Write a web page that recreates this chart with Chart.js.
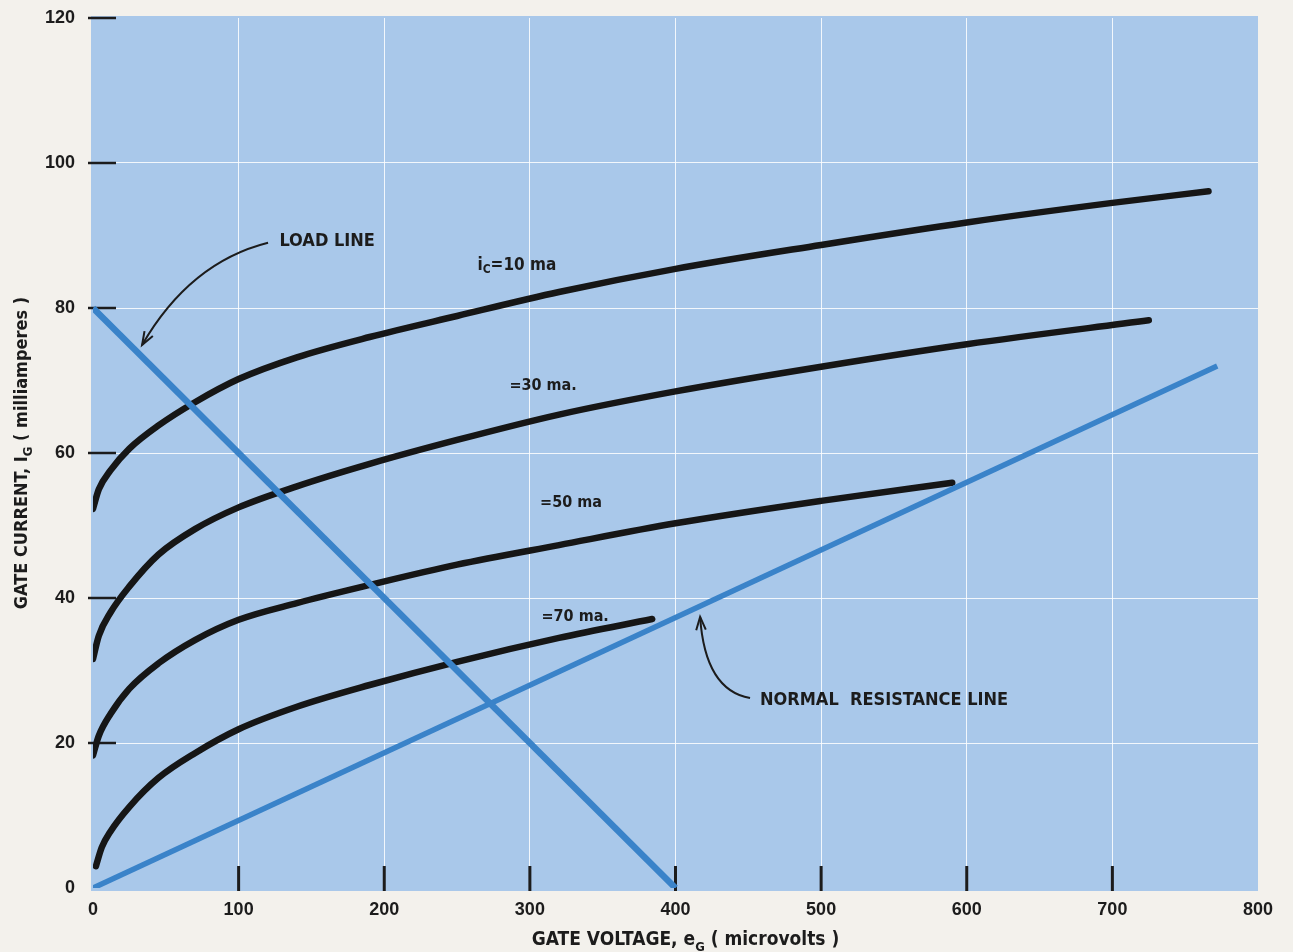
<!DOCTYPE html>
<html>
<head>
<meta charset="utf-8">
<title>Gate current vs gate voltage</title>
<script src="https://cdn.jsdelivr.net/npm/chart.js@4.4.1/dist/chart.umd.min.js"></script>
<style>
    html, body { margin: 0; padding: 0; background: #f3f1ec; }
    canvas { display: block; }
</style>
</head>
<body>
<canvas id="gateChart" width="1293" height="952"></canvas>
<script>
// axis ticks
const voltageTicks = [0, 100, 200, 300, 400, 500, 600, 700, 800]; // microvolts
const currentTicks = [0, 20, 40, 60, 80, 100, 120];               // milliamperes

// i_C = 10 ma
const volts10 = [0, 4, 12, 25, 45, 70, 100, 140, 190, 250, 320, 400, 500, 600, 700, 766];
const amps10 = [52.3, 55.0, 57.6, 60.6, 63.8, 67.0, 70.2, 73.2, 76.0, 78.9, 82.2, 85.4, 88.7, 91.8, 94.5, 96.1];

// i_C = 30 ma
const volts30 = [0, 4, 12, 25, 45, 70, 100, 140, 190, 250, 320, 400, 500, 600, 725];
const amps30 = [31.6, 34.8, 38.0, 41.6, 46.0, 49.5, 52.5, 55.4, 58.5, 61.8, 65.3, 68.5, 71.9, 75.0, 78.3];

// i_C = 50 ma
const volts50 = [0, 4, 12, 25, 45, 70, 100, 140, 190, 250, 320, 400, 500, 590];
const amps50 = [18.3, 21.0, 24.0, 27.5, 31.0, 34.2, 37.0, 39.3, 41.8, 44.6, 47.3, 50.3, 53.4, 55.9];

// i_C = 70 ma
const volts70 = [2, 6, 12, 25, 45, 70, 100, 140, 190, 250, 320, 384];
const amps70 = [3.0, 5.6, 7.8, 11.2, 15.2, 18.6, 21.9, 25.0, 28.0, 31.2, 34.5, 37.1];

// straight lines
const loadVolts = [0, 400];
const loadAmps = [80, 0];
const normalVolts = [0, 772];
const normalAmps = [0, 72];

const toPoints = (xs, ys) => xs.map((x, i) => ({ x: x, y: ys[i] }));

const INK = '#1c1c1c';
const CURVE = '#161616';
const BLUE_LINE = '#3a83c9';
const PLOT_BG = '#a9c8ea';
const PAGE_BG = '#f3f1ec';
const NARROW = "'Liberation Sans Narrow', 'DejaVu Sans Condensed', 'Liberation Sans', sans-serif";
const TICK_FONT = "'Liberation Sans', Arial, sans-serif";

// text made of [text, isSubscript] parts
const richWidth = (ctx, parts, size, family) => {
    let w = 0;
    parts.forEach(([text, sub]) => {
        ctx.font = `bold ${sub ? Math.round(size * 0.7) : size}px ${family}`;
        w += ctx.measureText(text).width;
    });
    return w;
};
const drawRich = (ctx, parts, x, y, size, family) => {
    let cx = x;
    parts.forEach(([text, sub]) => {
        ctx.font = `bold ${sub ? Math.round(size * 0.7) : size}px ${family}`;
        ctx.fillText(text, cx, sub ? y + size * 0.3 : y);
        cx += ctx.measureText(text).width;
    });
};

const curveSet = (label, xs, ys) => ({
    label: label,
    data: toPoints(xs, ys),
    showLine: true,
    borderColor: CURVE,
    borderWidth: 6.5,
    borderCapStyle: 'round',
    borderJoinStyle: 'round',
    pointRadius: 0,
    cubicInterpolationMode: 'monotone'
});

const lineSet = (label, xs, ys, width) => ({
    label: label,
    data: toPoints(xs, ys),
    showLine: true,
    borderColor: BLUE_LINE,
    borderWidth: width,
    borderCapStyle: 'butt',
    pointRadius: 0,
    tension: 0
});

// plot background, inner tick marks, labels, arrows, axis titles
const paperPlugin = {
    id: 'paper',
    beforeDraw(chart) {
        const { ctx, chartArea: a } = chart;
        ctx.save();
        ctx.fillStyle = PAGE_BG;
        ctx.fillRect(0, 0, chart.width, chart.height);
        ctx.fillStyle = PLOT_BG;
        ctx.fillRect(a.left - 2, a.top - 2, a.right - a.left + 2, a.bottom - a.top + 5);
        ctx.restore();
    },
    beforeDatasetsDraw(chart) {
        const { ctx, chartArea: a, scales } = chart;
        ctx.save();
        ctx.strokeStyle = INK;
        ctx.lineWidth = 2.5;
        currentTicks.filter(v => v > 0).forEach(v => {
            const y = scales.y.getPixelForValue(v);
            ctx.beginPath();
            ctx.moveTo(a.left - 5, y);
            ctx.lineTo(a.left + 23, y);
            ctx.stroke();
        });
        ctx.lineWidth = 3;
        voltageTicks.filter(v => v > 0 && v < 800).forEach(v => {
            const x = scales.x.getPixelForValue(v);
            ctx.beginPath();
            ctx.moveTo(x, a.bottom + 3);
            ctx.lineTo(x, a.bottom - 22);
            ctx.stroke();
        });
        ctx.restore();
    },
    afterDatasetsDraw(chart) {
        const { ctx, chartArea: a, scales } = chart;
        const px = v => scales.x.getPixelForValue(v);
        const py = v => scales.y.getPixelForValue(v);
        ctx.save();
        ctx.fillStyle = INK;
        ctx.textBaseline = 'middle';
        ctx.textAlign = 'left';

        // curve labels
        drawRich(ctx, [['i'], ['C', true], ['=10 ma']], px(264), py(85.9), 17, NARROW);
        drawRich(ctx, [['=30 ma.']], px(286), py(69.2), 16, NARROW);
        drawRich(ctx, [['=50 ma']], px(307), py(53.1), 16, NARROW);
        drawRich(ctx, [['=70 ma.']], px(308), py(37.4), 16, NARROW);

        // line callouts
        drawRich(ctx, [['LOAD LINE']], px(128), py(89.2), 18, NARROW);
        drawRich(ctx, [['NORMAL  RESISTANCE LINE']], px(458), py(25.9), 18, NARROW);

        // arrows
        const arrow = (sx, sy, cx, cy, ex, ey) => {
            const s = [px(sx), py(sy)], c = [px(cx), py(cy)], e = [px(ex), py(ey)];
            ctx.strokeStyle = INK;
            ctx.lineWidth = 2;
            ctx.beginPath();
            ctx.moveTo(s[0], s[1]);
            ctx.quadraticCurveTo(c[0], c[1], e[0], e[1]);
            ctx.stroke();
            const ang = Math.atan2(e[1] - c[1], e[0] - c[0]);
            const len = 14;
            ctx.beginPath();
            ctx.moveTo(e[0] - len * Math.cos(ang - 0.35), e[1] - len * Math.sin(ang - 0.35));
            ctx.lineTo(e[0], e[1]);
            ctx.lineTo(e[0] - len * Math.cos(ang + 0.35), e[1] - len * Math.sin(ang + 0.35));
            ctx.stroke();
        };
        arrow(120.2, 89.0, 66.6, 86.3, 33.7, 74.9);
        arrow(451.2, 26.2, 420.3, 27.3, 416.9, 37.4);

        // axis titles
        ctx.textBaseline = 'alphabetic';
        const xParts = [['GATE VOLTAGE, e'], ['G', true], [' ( microvolts )']];
        const xw = richWidth(ctx, xParts, 19, NARROW);
        drawRich(ctx, xParts, (a.left + a.right) / 2 + 10 - xw / 2, 945, 19, NARROW);

        const yParts = [['GATE CURRENT, I'], ['G', true], [' ( milliamperes )']];
        const yw = richWidth(ctx, yParts, 18, NARROW);
        ctx.translate(27, (a.top + a.bottom) / 2);
        ctx.rotate(-Math.PI / 2);
        drawRich(ctx, yParts, -yw / 2, 0, 18, NARROW);
        ctx.restore();
    }
};

const gridColor = (ctx, edge) => (ctx.tick && (ctx.tick.value === 0 || ctx.tick.value === edge))
    ? 'rgba(0,0,0,0)' : 'rgba(255,255,255,0.85)';

new Chart(document.getElementById('gateChart').getContext('2d'), {
    type: 'scatter',
    data: {
        datasets: [
            lineSet('Load line', loadVolts, loadAmps, 6.5),
            lineSet('Normal resistance line', normalVolts, normalAmps, 5.5),
            curveSet('iC = 10 ma', volts10, amps10),
            curveSet('iC = 30 ma', volts30, amps30),
            curveSet('iC = 50 ma', volts50, amps50),
            curveSet('iC = 70 ma', volts70, amps70)
        ]
    },
    options: {
        responsive: false,
        animation: false,
        layout: { padding: { top: 18, right: 35, left: 0, bottom: 0 } },
        plugins: {
            legend: { display: false },
            tooltip: { enabled: false }
        },
        scales: {
            x: {
                type: 'linear',
                min: 0,
                max: 800,
                afterBuildTicks: scale => { scale.ticks = voltageTicks.map(v => ({ value: v })); },
                afterFit: scale => { scale.height = 64; scale.paddingLeft = 0; scale.paddingRight = 0; },
                border: { display: false },
                grid: { color: ctx => gridColor(ctx, 800), lineWidth: 1, drawTicks: false },
                ticks: {
                    color: INK,
                    padding: 11,
                    maxRotation: 0,
                    font: { family: TICK_FONT, size: 18, weight: 'bold' }
                }
            },
            y: {
                type: 'linear',
                min: 0,
                max: 120,
                afterBuildTicks: scale => { scale.ticks = currentTicks.map(v => ({ value: v })); },
                afterFit: scale => { scale.width = 93; scale.paddingTop = 0; scale.paddingBottom = 0; },
                border: { display: false },
                grid: { color: ctx => gridColor(ctx, 120), lineWidth: 1, drawTicks: false },
                ticks: {
                    color: INK,
                    padding: 18,
                    font: { family: TICK_FONT, size: 18, weight: 'bold' }
                }
            }
        }
    },
    plugins: [paperPlugin]
});
</script>
</body>
</html>
